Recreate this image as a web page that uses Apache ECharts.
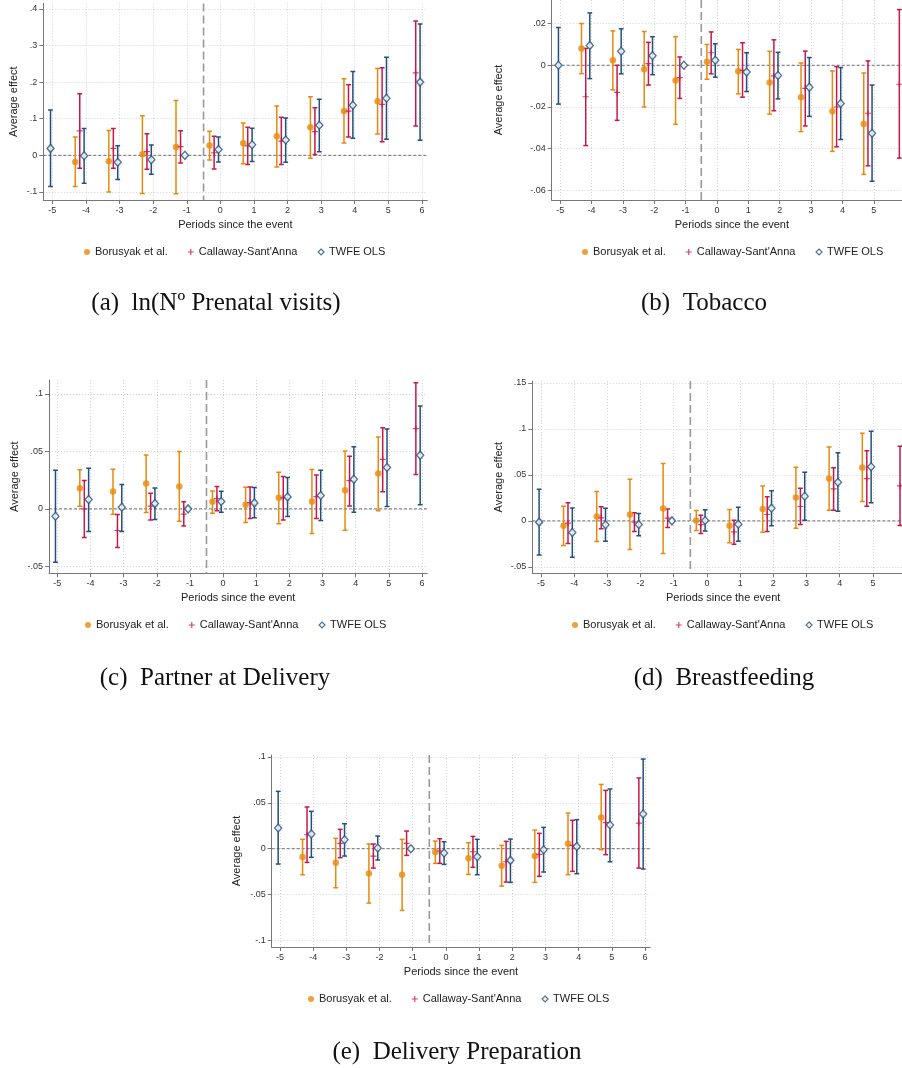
<!DOCTYPE html>
<html><head><meta charset="utf-8">
<script src="https://cdn.jsdelivr.net/npm/echarts@6/dist/echarts.min.js"></script>
<style>html,body{margin:0;padding:0;background:#fff}#c{width:902px;height:1068px}</style>
</head><body><div id="c"></div>
<script>
// ---------------- DATA ----------------
const periods = [-5,-4,-3,-2,-1,0,1,2,3,4,5,6];
const seriesNames = ['Borusyak et al.', "Callaway-Sant'Anna", 'TWFE OLS'];
const xTicksLong = [-5,-4,-3,-2,-1,0,1,2,3,4,5,6];
const xTicksShort = [-5,-4,-3,-2,-1,0,1,2,3,4,5];

// Panel (a) ln(N Prenatal visits)
const aBjs   = [null,-0.018,-0.016,0.003,0.023,0.027,0.033,0.052,0.077,0.121,0.148,null];
const aBjsLo = [null,-0.085,-0.100,-0.104,-0.105,-0.013,-0.023,-0.032,-0.008,0.034,0.058,null];
const aBjsHi = [null,0.050,0.068,0.108,0.150,0.066,0.088,0.135,0.160,0.209,0.237,null];
const aCs    = [null,0.067,0.019,0.010,0.024,0.007,0.026,0.039,0.065,0.121,0.139,0.225];
const aCsLo  = [null,-0.035,-0.035,-0.038,-0.021,-0.037,-0.025,-0.025,0.002,0.050,0.037,0.080];
const aCsHi  = [null,0.168,0.073,0.059,0.067,0.052,0.077,0.104,0.130,0.193,0.239,0.367];
const aTw    = [0.019,-0.001,-0.019,-0.012,0,0.016,0.029,0.042,0.082,0.137,0.156,0.200];
const aTwLo  = [-0.085,-0.076,-0.066,-0.052,null,-0.018,-0.017,-0.019,0.010,0.047,0.044,0.041];
const aTwHi  = [0.124,0.073,0.026,0.028,null,0.050,0.074,0.102,0.153,0.229,0.268,0.359];
const aYTicks = [-0.1,0,0.1,0.2,0.3,0.4];

// Panel (b) Tobacco
const bBjs   = [null,0.0081,0.0024,-0.0019,-0.0073,0.0017,-0.0029,-0.0083,-0.0153,-0.0221,-0.0281,null];
const bBjsLo = [null,-0.0040,-0.0118,-0.0200,-0.0283,-0.0067,-0.0137,-0.0234,-0.0318,-0.0413,-0.0523,null];
const bBjsHi = [null,0.0200,0.0165,0.0162,0.0137,0.0100,0.0076,0.0067,0.0011,-0.0027,-0.0037,null];
const bCs    = [null,-0.0151,-0.0130,0.0008,-0.0059,0.0060,-0.0024,-0.0051,-0.0111,-0.0200,-0.0230,-0.0091];
const bCsLo  = [null,-0.0385,-0.0264,-0.0095,-0.0159,-0.0041,-0.0153,-0.0218,-0.0291,-0.0391,-0.0482,-0.0445];
const bCsHi  = [null,0.0081,0.0000,0.0110,0.0040,0.0160,0.0108,0.0122,0.0068,-0.0006,0.0021,0.0267];
const bTw    = [0,0.0095,0.0067,0.0046,0,0.0024,-0.0032,-0.0049,-0.0105,-0.0183,-0.0326,null];
const bTwLo  = [-0.0186,-0.0064,-0.0041,-0.0045,null,-0.0057,-0.0126,-0.0161,-0.0245,-0.0356,-0.0556,null];
const bTwHi  = [0.0181,0.0251,0.0175,0.0137,null,0.0103,0.0060,0.0062,0.0037,-0.0011,-0.0095,null];
const bYTicks = [-0.06,-0.04,-0.02,0,0.02];

// Panel (c) Partner at Delivery
const cBjs   = [null,0.0180,0.0151,0.0220,0.0194,0.0061,0.0035,0.0096,0.0064,0.0162,0.0307,null];
const cBjsLo = [null,0.0023,-0.0046,-0.0032,-0.0107,-0.0038,-0.0119,-0.0130,-0.0214,-0.0185,-0.0017,null];
const cBjsHi = [null,0.0339,0.0345,0.0469,0.0498,0.0156,0.0188,0.0318,0.0342,0.0504,0.0625,null];
const cCs    = [null,0.0000,-0.0188,0.0023,-0.0046,0.0090,0.0055,0.0096,0.0107,0.0246,0.0431,0.0698];
const cCsLo  = [null,-0.0249,-0.0336,-0.0096,-0.0148,-0.0017,-0.0084,-0.0096,-0.0084,0.0026,0.0148,0.0298];
const cCsHi  = [null,0.0246,-0.0049,0.0136,0.0061,0.0194,0.0191,0.0281,0.0295,0.0457,0.0706,0.1097];
const cTw    = [-0.0064,0.0081,0.0014,0.0046,0,0.0064,0.0052,0.0104,0.0116,0.0258,0.0359,0.0466];
const cTwLo  = [-0.0463,-0.0197,-0.0197,-0.0093,null,-0.0029,-0.0078,-0.0067,-0.0101,-0.0029,0.0020,0.0035];
const cTwHi  = [0.0336,0.0353,0.0211,0.0182,null,0.0153,0.0185,0.0272,0.0336,0.0539,0.0695,0.0895];
const cYTicks = [-0.05,0,0.05,0.1];

// Panel (d) Breastfeeding
const dBjs   = [null,-0.0054,0.0047,0.0069,0.0134,0.0004,-0.0054,0.0130,0.0254,0.0460,0.0580,null];
const dBjsLo = [null,-0.0268,-0.0225,-0.0312,-0.0355,-0.0105,-0.0239,-0.0123,-0.0080,0.0116,0.0210,null];
const dBjsHi = [null,0.0159,0.0319,0.0453,0.0623,0.0112,0.0123,0.0380,0.0583,0.0804,0.0953,null];
const dCs    = [null,-0.0025,0.0033,-0.0014,0.0029,-0.0040,-0.0120,0.0069,0.0156,0.0348,0.0460,0.0380];
const dCsLo  = [null,-0.0246,-0.0087,-0.0116,-0.0072,-0.0138,-0.0254,-0.0116,-0.0040,0.0116,0.0159,-0.0051];
const dCsHi  = [null,0.0196,0.0152,0.0087,0.0130,0.0062,0.0007,0.0261,0.0355,0.0576,0.0761,0.0812];
const dTw    = [-0.0014,-0.0127,-0.0043,-0.0040,0,0.0004,-0.0036,0.0138,0.0268,0.0420,0.0587,null];
const dTwLo  = [-0.0370,-0.0395,-0.0221,-0.0163,null,-0.0109,-0.0221,-0.0054,0.0007,0.0105,0.0196,null];
const dTwHi  = [0.0344,0.0141,0.0138,0.0080,null,0.0120,0.0149,0.0326,0.0529,0.0739,0.0975,null];
const dYTicks = [-0.05,0,0.05,0.1,0.15];

// Panel (e) Delivery Preparation
const eBjs   = [null,-0.0091,-0.0152,-0.0269,-0.0283,-0.0036,-0.0105,-0.0185,-0.0080,0.0054,0.0341,null];
const eBjsLo = [null,-0.0283,-0.0425,-0.0592,-0.0672,-0.0160,-0.0280,-0.0407,-0.0367,-0.0283,-0.0011,null];
const eBjsHi = [null,0.0102,0.0113,0.0051,0.0102,0.0083,0.0065,0.0036,0.0203,0.0388,0.0700,null];
const eCs    = [null,0.0152,0.0058,-0.0080,0.0058,-0.0025,-0.0033,-0.0142,-0.0062,0.0036,0.0283,0.0279];
const eCsLo  = [null,-0.0149,-0.0098,-0.0211,-0.0073,-0.0160,-0.0203,-0.0363,-0.0301,-0.0247,-0.0065,-0.0211];
const eCsHi  = [null,0.0454,0.0211,0.0051,0.0192,0.0109,0.0134,0.0080,0.0167,0.0309,0.0635,0.0770];
const eTw    = [0.0225,0.0160,0.0098,0.0007,0,-0.0047,-0.0087,-0.0127,-0.0011,0.0025,0.0258,0.0377];
const eTwLo  = [-0.0167,-0.0094,-0.0080,-0.0123,null,-0.0171,-0.0283,-0.0367,-0.0254,-0.0272,-0.0142,-0.0221];
const eTwHi  = [0.0624,0.0407,0.0272,0.0138,null,0.0076,0.0102,0.0105,0.0232,0.0316,0.0650,0.0976];
const eYTicks = [-0.1,-0.05,0,0.05,0.1];

const captions = ['(a)\u2002ln(N\u00BA Prenatal visits)', '(b)\u2002Tobacco', '(c)\u2002Partner at Delivery', '(d)\u2002Breastfeeding', '(e)\u2002Delivery Preparation'];

// ---------------- STYLE / LAYOUT ----------------
const COLORS = ['#E8890C', '#C8174A', '#21507E'];
const OFFSETS = [-0.32, -0.185, -0.055];
const PLUS = 'path://M2,0h1v2h2v1h-2v2h-1v-2h-2v-1h2z';
const FONT = '"Liberation Sans", Arial, Helvetica, sans-serif';

const panels = [
  {est:[aBjs,aCs,aTw], lo:[aBjsLo,aCsLo,aTwLo], hi:[aBjsHi,aCsHi,aTwHi], yTicks:aYTicks, xTicks:xTicksLong,
   grid:{left:43.3, top:3.4, width:384, height:196.6}, x:[-5.27,6.16], y:[-0.122,0.415], yGap:24, xPad:0,
   legend:{left:79, top:240}, cap:[216,303]},
  {est:[bBjs,bCs,bTw], lo:[bBjsLo,bCsLo,bTwLo], hi:[bBjsHi,bCsHi,bTwHi], yTicks:bYTicks, xTicks:xTicksShort,
   grid:{left:551.7, top:0, width:350.3, height:200}, x:[-5.27,5.90], y:[-0.0646,0.0313], yGap:47, xPad:10,
   legend:{left:577, top:240}, cap:[704,303]},
  {est:[cBjs,cCs,cTw], lo:[cBjsLo,cCsLo,cTwLo], hi:[cBjsHi,cCsHi,cTwHi], yTicks:cYTicks, xTicks:xTicksLong,
   grid:{left:49, top:380, width:378.3, height:193.3}, x:[-5.25,6.16], y:[-0.056,0.112], yGap:29, xPad:0,
   legend:{left:80, top:613}, cap:[215,678]},
  {est:[dBjs,dCs,dTw], lo:[dBjsLo,dCsLo,dTwLo], hi:[dBjsHi,dCsHi,dTwHi], yTicks:dYTicks, xTicks:xTicksShort,
   grid:{left:532.3, top:381, width:369.7, height:192.3}, x:[-5.26,5.875], y:[-0.057,0.152], yGap:28, xPad:12,
   legend:{left:567, top:613}, cap:[724,678]},
  {est:[eBjs,eCs,eTw], lo:[eBjsLo,eCsLo,eTwLo], hi:[eBjsHi,eCsHi,eTwHi], yTicks:eYTicks, xTicks:xTicksLong,
   grid:{left:271.7, top:755, width:378.6, height:192}, x:[-5.25,6.16], y:[-0.107,0.102], yGap:29, xPad:0,
   legend:{left:303, top:987}, cap:[457,1052]}
];

function stataFmt(v) {
  if (Math.abs(v) < 1e-10) return '0';
  const s = (+v.toFixed(4)).toString();
  return s.replace(/^(-?)0\./, '$1.');
}

function renderBar(params, api) {
  const x = api.value(0), lo = api.value(1), hi = api.value(2);
  const p1 = api.coord([x, lo]), p2 = api.coord([x, hi]);
  const cw = 2.4;
  const style = {stroke: api.visual('color'), lineWidth: 1.5, fill: null};
  return {type: 'group', children: [
    {type: 'line', shape: {x1: p1[0], y1: p1[1], x2: p2[0], y2: p2[1]}, style: style},
    {type: 'line', shape: {x1: p1[0]-cw, y1: p1[1], x2: p1[0]+cw, y2: p1[1]}, style: style},
    {type: 'line', shape: {x1: p2[0]-cw, y1: p2[1], x2: p2[0]+cw, y2: p2[1]}, style: style}
  ]};
}

function renderRef(params, api) {
  const cs = params.coordSys;
  const p = api.coord([api.value(0), api.value(1)]);
  return {type: 'group', children: [
    {type: 'line', shape: {x1: cs.x, y1: p[1], x2: cs.x + cs.width, y2: p[1]},
     style: {stroke: '#6e6e6e', lineWidth: 1, lineDash: [3, 2]}},
    {type: 'line', shape: {x1: p[0], y1: cs.y, x2: p[0], y2: cs.y + cs.height},
     style: {stroke: '#999999', lineWidth: 1.6, lineDash: [8, 4]}}
  ]};
}

const grids = [], xAxes = [], yAxes = [], scatterSeries = [], barSeries = [], refSeries = [], legends = [], graphics = [];
const symbols = ['circle', PLUS, 'diamond'];
const symSizes = [6.5, 6, [7, 8]];

panels.forEach((p, i) => {
  grids.push(Object.assign({containLabel: false}, p.grid));
  xAxes.push({
    gridIndex: i, type: 'value', min: p.x[0], max: p.x[1],
    axisLine: {show: true, onZero: false, lineStyle: {color: '#777', width: 1}},
    axisTick: {show: true, length: 4, customValues: p.xTicks, lineStyle: {color: '#777'}},
    axisLabel: {customValues: p.xTicks, fontSize: 9, color: '#333', margin: 6, fontFamily: FONT,
      formatter: v => String(Math.round(v))},
    splitLine: {show: true, lineStyle: {color: '#d2d2d2', width: 1, type: [1, 2]}},
    name: 'Periods since the event', nameLocation: 'middle', nameGap: 19,
    nameTextStyle: {fontSize: 11, color: '#222', fontFamily: FONT, padding: [0, 0, 0, p.xPad]}
  });
  yAxes.push({
    gridIndex: i, type: 'value', min: p.y[0], max: p.y[1],
    axisLine: {show: true, onZero: false, lineStyle: {color: '#777', width: 1}},
    axisTick: {show: true, length: 4, customValues: p.yTicks, lineStyle: {color: '#777'}},
    axisLabel: {customValues: p.yTicks, fontSize: 9, color: '#333', margin: 6, fontFamily: FONT,
      formatter: stataFmt},
    splitLine: {show: true, lineStyle: {color: '#d2d2d2', width: 1, type: [1, 2]}},
    name: 'Average effect', nameLocation: 'middle', nameGap: p.yGap, nameRotate: 90,
    nameTextStyle: {fontSize: 11, color: '#222', fontFamily: FONT}
  });
  refSeries.push({
    type: 'custom', xAxisIndex: i, yAxisIndex: i, silent: true, z: 1,
    renderItem: renderRef, data: [[-0.5, 0]], encode: {x: 0, y: 1}
  });
  for (let k = 0; k < 3; k++) {
    const pts = [], bars = [];
    periods.forEach((t, j) => {
      const xv = t + OFFSETS[k];
      if (p.est[k][j] != null) pts.push([xv, p.est[k][j]]);
      if (p.lo[k][j] != null && p.hi[k][j] != null) bars.push([xv, p.lo[k][j], p.hi[k][j]]);
    });
    const itemStyle = k === 2
      ? {color: '#ffffff', borderColor: COLORS[k], borderWidth: 1.4}
      : {color: COLORS[k], borderWidth: 0};
    scatterSeries.push({
      type: 'scatter', name: seriesNames[k], xAxisIndex: i, yAxisIndex: i, z: 4,
      symbol: symbols[k], symbolSize: symSizes[k], itemStyle: itemStyle, data: pts,
      emphasis: {disabled: true}, clip: true
    });
    barSeries.push({
      type: 'custom', name: seriesNames[k], xAxisIndex: i, yAxisIndex: i, z: 3,
      itemStyle: {color: COLORS[k]}, renderItem: renderBar, data: bars,
      encode: {x: 0, y: [1, 2]}, clip: true, silent: true
    });
  }
  legends.push({
    left: p.legend.left, top: p.legend.top, orient: 'horizontal',
    itemWidth: 6, itemHeight: 6, itemGap: 20, selectedMode: false,
    textStyle: {fontSize: 11, color: '#222', fontFamily: FONT, lineHeight: 14},
    data: [
      {name: seriesNames[0], icon: 'circle', itemStyle: {color: COLORS[0], borderWidth: 0}},
      {name: seriesNames[1], icon: PLUS, itemStyle: {color: COLORS[1], borderWidth: 0}},
      {name: seriesNames[2], icon: 'diamond', itemStyle: {color: '#ffffff', borderColor: COLORS[2], borderWidth: 1.2}}
    ]
  });
  graphics.push({
    type: 'text', x: p.cap[0], y: p.cap[1], silent: true,
    style: {text: captions[i], align: 'center', verticalAlign: 'middle', textAlign: 'center', textVerticalAlign: 'middle',
      fontSize: 25, fontFamily: '"Liberation Serif", "Times New Roman", serif', fill: '#111'}
  });
});

const chart = echarts.init(document.getElementById('c'), null, {renderer: 'canvas'});
chart.setOption({
  animation: false,
  backgroundColor: '#ffffff',
  textStyle: {fontFamily: FONT},
  grid: grids, xAxis: xAxes, yAxis: yAxes,
  legend: legends,
  graphic: graphics,
  series: scatterSeries.concat(barSeries, refSeries)
});
</script></body></html>
